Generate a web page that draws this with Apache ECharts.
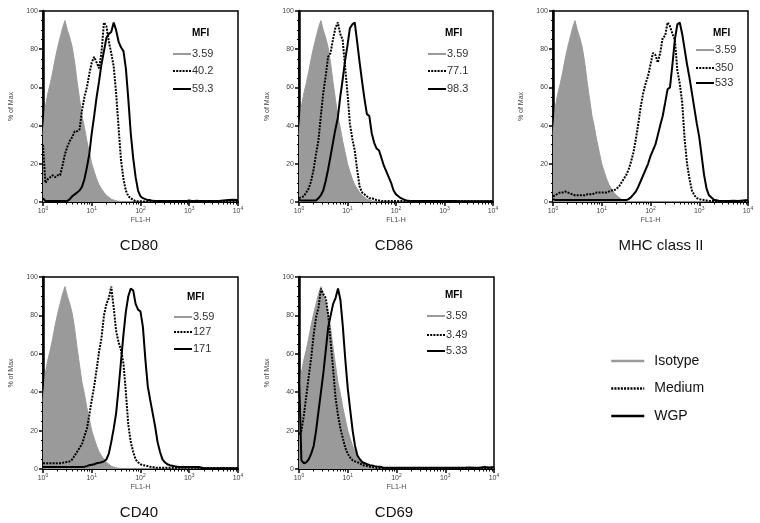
<!DOCTYPE html>
<html>
<head>
<meta charset="utf-8">
<script src="https://cdn.jsdelivr.net/npm/echarts@6/dist/echarts.min.js"></script>
<style>
html,body{margin:0;padding:0;background:#fff;}
#chart{width:760px;height:523px;}
</style>
</head>
<body>
<div id="chart"></div>
<script>
// FL1-H channel values (log-spaced sample points)
const channels = [
  1, 1.12, 1.26, 1.41, 1.58, 1.78, 2.0, 2.24, 2.51, 2.82,
  3.16, 3.55, 3.98, 4.47, 5.01, 5.62, 6.31, 7.08, 7.94, 8.91,
  10, 11.2, 12.6, 14.1, 15.8, 17.8, 20, 22.4, 25.1, 28.2,
  31.6, 35.5, 39.8, 44.7, 50.1, 56.2, 63.1, 70.8, 79.4, 89.1,
  100, 112, 126, 141, 158, 178, 200, 224, 251, 282,
  316, 355, 398, 447, 501, 562, 631, 708, 794, 891,
  1000, 1122, 1259, 1413, 1585,
  1995, 2512, 3162, 3981, 5012, 6310, 7943, 10000
];

// % of Max values
const isotype = [
  35, 50, 57, 62, 68, 75, 81, 86, 91, 95,
  90, 86, 81, 73, 63, 54, 45, 39, 32, 26,
  20, 16, 12, 9, 7, 5, 3.5, 2.5, 1.5, 1,
  0.6, 0.4, 0.3, 0.3, 0.3, 0.3, 0.3, 0.3, 0.3, 0.3,
  0.3, 0.3, 0.3, 0.3, 0.3, 0.3, 0.3, 0.3, 0.3, 0.3,
  0.3, 0.3, 0.3, 0.3, 0.3, 0.3, 0.3, 0.3, 0.3, 0.3,
  0.3, 0.3, 0.3, 0.3, 0.3,
  0.3, 0.3, 0.3, 0.3, 0.3, 0.3, 0.3, 0.3
];
const cd80Medium = [
  30, 10, 12, 13, 14, 13, 14, 14, 19, 25,
  29, 32, 34, 37, 37, 38, 48, 55, 60, 67,
  73, 76, 73, 70, 78, 94, 92, 84, 78, 71,
  57, 39, 22, 12, 6, 3, 2, 1, 0.5, 0.4,
  0.4, 0.3, 0.3, 0.3, 0.3, 0.3, 0.3, 0.3, 0.3, 0.3,
  0.3, 0.3, 0.3, 0.3, 0.3, 0.3, 0.3, 0.3, 0.3, 0.3,
  0.5, 0.3, 0.3, 0.3, 0.5,
  0.3, 0.3, 0.3, 0.3, 0.5, 0.3, 0.5, 0.3
];
const cd80WGP = [
  2, 0.5, 0.5, 0.5, 0.5, 0.5, 0.5, 0.5, 0.5, 0.5,
  0.5, 1.5, 3, 4, 5, 6, 8, 12, 18, 25,
  36, 45, 55, 63, 72, 79, 86, 88, 89, 94,
  90, 84, 81, 79, 70, 54, 36, 23, 13, 6,
  3, 2, 1.5, 1, 1, 0.6, 0.5, 0.5, 0.5, 0.5,
  0.5, 0.5, 0.5, 0.5, 0.5, 0.5, 0.5, 0.5, 0.5, 0.5,
  0.8, 0.5, 0.5, 0.6, 0.5,
  0.5, 0.5, 0.5, 0.5, 0.8, 1, 1.2, 1
];
const cd86Medium = [
  2, 2.5, 3, 5, 7, 11, 17, 25, 32, 45,
  57, 66, 76, 78, 85, 91, 94, 88, 85, 71,
  57, 41, 33, 27, 17, 8, 5, 4, 3, 2,
  2, 1.5, 1, 0.8, 0.5, 0.5, 0.5, 0.5, 0.5, 0.5,
  0.5, 0.5, 0.5, 0.5, 0.5, 0.5, 0.5, 0.5, 0.5, 0.5,
  0.5, 0.5, 0.5, 0.5, 0.5, 0.5, 0.5, 0.5, 0.5, 0.5,
  0.5, 0.5, 0.5, 0.5, 0.5,
  0.4, 0.4, 0.4, 0.4, 0.4, 0.4, 0.4, 0.4
];
const cd86WGP = [
  1, 0.8, 0.8, 0.8, 0.8, 0.8, 0.8, 0.8, 2, 3.5,
  6, 11, 17, 24, 31, 38, 44, 55, 64, 74,
  82, 91, 93, 94, 84, 73, 63, 54, 46, 45,
  36, 31, 28, 27, 23, 19, 16, 13, 10, 6,
  4, 3, 2, 1.5, 1, 0.6, 0.5, 0.5, 0.5, 0.5,
  0.5, 0.5, 0.5, 0.5, 0.5, 0.5, 0.5, 0.5, 0.5, 0.5,
  0.5, 0.5, 0.5, 0.5, 0.5,
  0.4, 0.4, 0.4, 0.4, 0.4, 0.4, 0.4, 0.4
];
const mhcMedium = [
  3, 3.5, 4.5, 5, 5, 5.5, 5, 4.5, 4, 3.5,
  3.5, 3.5, 3.5, 3.5, 4, 4, 4, 4.5, 5, 5,
  5, 5, 5, 5.5, 6, 6, 7, 8, 10, 12,
  14, 17, 21, 26, 33, 41, 50, 57, 62, 66,
  72, 78, 77, 73, 78, 86, 87, 94, 92, 88,
  85, 69, 62, 52, 33, 20, 12, 6, 3.5, 2,
  1.5, 1.2, 1, 0.8, 0.6,
  0.5, 0.5, 0.5, 0.5, 0.5, 0.5, 0.5, 0.5
];
const mhcWGP = [
  1.5, 1, 1, 1, 1, 1, 1, 1, 1, 1,
  1, 1, 1, 1, 1, 1, 1, 1, 1, 1,
  1, 1, 1, 1, 1, 1, 1, 1, 1, 1,
  1, 1.5, 2.5, 4, 5.5, 8, 11, 14, 17, 20,
  24, 27, 30, 35, 40, 45, 52, 59, 60, 72,
  85, 93, 94, 88, 80, 72, 65, 57, 49, 41,
  34, 24, 14, 7, 3.5,
  1.2, 0.7, 0.5, 0.5, 0.6, 0.5, 0.8, 1
];
const cd40Medium = [
  3, 3, 3, 3, 3, 3, 3, 3, 3.2, 3.5,
  3.6, 4, 5, 7, 9, 11, 13, 17, 21, 28,
  36, 43, 52, 61, 68, 80, 86, 89, 95, 84,
  72, 66, 62, 55, 40, 23, 14, 9, 5, 3.5,
  2.5, 2, 1.8, 1.5, 1.2, 1, 0.7, 0.7, 0.7, 0.7,
  0.7, 0.7, 0.7, 0.7, 0.7, 0.7, 0.7, 0.7, 0.7, 0.7,
  0.7, 0.6, 0.6, 0.6, 0.5,
  0.5, 0.5, 0.5, 0.5, 0.5, 0.5, 0.5, 0.5
];
const cd40WGP = [
  1, 1, 1, 1, 1, 1, 1, 1, 1, 1,
  1, 1, 1, 1, 1, 1, 1, 1.2, 1.5, 2,
  2.2, 2.5, 3, 3.2, 3.5, 4, 5, 8, 14, 21,
  29, 42, 56, 70, 82, 90, 94, 93, 86, 83,
  82, 74, 57, 43, 36, 29, 22, 14, 9, 5,
  3.5, 2.5, 2, 1.7, 1.4, 1.2, 1, 1, 1, 1,
  1, 1, 1, 1, 1,
  0.4, 0.4, 0.4, 0.4, 0.4, 0.4, 0.4, 0.4
];
const cd69Medium = [
  18, 20, 28, 38, 48, 58, 70, 79, 84, 94,
  91, 89, 80, 66, 52, 37, 28, 21, 16, 11,
  8, 6, 4.5, 4, 3.5, 3, 2, 1.8, 1.5, 1.2,
  1, 0.8, 0.5, 0.5, 0.5, 0.5, 0.5, 0.5, 0.5, 0.5,
  0.5, 0.5, 0.5, 0.5, 0.5, 0.5, 0.5, 0.5, 0.5, 0.5,
  0.5, 0.5, 0.5, 0.5, 0.5, 0.5, 0.5, 0.5, 0.5, 0.5,
  0.5, 0.5, 0.5, 0.5, 0.5,
  0.5, 0.5, 0.5, 0.5, 0.5, 0.5, 0.5, 0.5
];
const cd69WGP = [
  50, 4.5, 3, 3.5, 5, 8, 12, 20, 30, 40,
  50, 62, 74, 80, 86, 89, 94, 88, 74, 57,
  42, 31, 20, 12, 7, 5, 3.5, 3, 2.5, 2,
  1.8, 1.5, 1.3, 1.2, 1, 0.6, 0.6, 0.6, 0.6, 0.6,
  0.6, 0.6, 0.6, 0.6, 0.6, 0.6, 0.6, 0.6, 0.6, 0.6,
  0.6, 0.6, 0.6, 0.6, 0.6, 0.6, 0.6, 0.6, 0.6, 0.6,
  0.6, 0.6, 0.6, 0.6, 0.6,
  0.6, 0.6, 0.8, 0.6, 0.6, 1, 0.8, 1
];

const panelTitles = ['CD80', 'CD86', 'MHC class II', 'CD40', 'CD69'];
const mediumSets = [cd80Medium, cd86Medium, mhcMedium, cd40Medium, cd69Medium];
const wgpSets = [cd80WGP, cd86WGP, mhcWGP, cd40WGP, cd69WGP];
const mfiIsotype = ['3.59', '3.59', '3.59', '3.59', '3.59'];
const mfiMedium = ['40.2', '77.1', '350', '127', '3.49'];
const mfiWGP = ['59.3', '98.3', '533', '171', '5.33'];
const seriesNames = ['Isotype', 'Medium', 'WGP'];
const yTickValues = [0, 20, 40, 60, 80, 100];

// ---- layout (pixels) ----
const grids = [
  {l: 43, t: 11, w: 195, h: 191},
  {l: 299, t: 11, w: 194, h: 191},
  {l: 553, t: 11, w: 195, h: 191},
  {l: 43, t: 277, w: 195, h: 192},
  {l: 299, t: 277, w: 195, h: 192}
];
const titlePos = [[139, 238], [394, 238], [661, 238], [139, 505], [394, 505]];
const keyPos = [
  {x: 173, mx: 192, my: 33, rows: [54, 71, 89]},
  {x: 428, mx: 445, my: 33, rows: [54, 71, 89]},
  {x: 696, mx: 713, my: 33, rows: [50, 68, 83]},
  {x: 174, mx: 187, my: 297, rows: [317, 332, 349]},
  {x: 427, mx: 445, my: 295, rows: [316, 335, 351]}
];

const FONT = '"Liberation Sans", Arial, sans-serif';
const GRAY = '#9a9a9a';
const DOT = [2, 1.2];

const option = {
  animation: false,
  backgroundColor: '#fff',
  grid: [], xAxis: [], yAxis: [], series: [], title: [], graphic: []
};

grids.forEach((g, i) => {
  option.grid.push({left: g.l, top: g.t, width: g.w, height: g.h,
    show: true, borderColor: '#000', borderWidth: 1.5, backgroundColor: 'transparent'});
  option.xAxis.push({
    type: 'log', logBase: 10, min: 1, max: 10000, gridIndex: i,
    name: 'FL1-H', nameLocation: 'middle', nameGap: 15,
    nameTextStyle: {fontSize: 7, color: '#444', fontFamily: FONT},
    axisLine: {show: true, lineStyle: {color: '#000', width: 2}},
    axisTick: {show: true, inside: false, length: 4, lineStyle: {color: '#000', width: 1.5}},
    minorTick: {show: true, splitNumber: 9, length: 2.5, lineStyle: {color: '#000', width: 1}},
    splitLine: {show: false},
    minorSplitLine: {show: false},
    axisLabel: {
      margin: 4, fontSize: 7, color: '#444', fontFamily: FONT,
      showMinLabel: true, showMaxLabel: true,
      formatter: v => '10{s|' + Math.round(Math.log10(v)) + '}',
      rich: {s: {fontSize: 5, color: '#444', verticalAlign: 'top', padding: [0, 0, 5, 0]}}
    }
  });
  option.yAxis.push({
    type: 'value', min: yTickValues[0], max: yTickValues[yTickValues.length - 1], interval: 20, gridIndex: i,
    name: '% of Max', nameLocation: 'middle', nameGap: 28, nameRotate: 90,
    nameTextStyle: {fontSize: 7, color: '#444', fontFamily: FONT},
    axisLine: {show: true, lineStyle: {color: '#000', width: 2.5}},
    axisTick: {show: true, inside: false, length: 4, lineStyle: {color: '#000', width: 1.5}},
    minorTick: {show: true, splitNumber: 4, length: 2, lineStyle: {color: '#000', width: 1}},
    splitLine: {show: false},
    axisLabel: {margin: 5, fontSize: 7, color: '#444', fontFamily: FONT}
  });
  const sets = [isotype, mediumSets[i], wgpSets[i]];
  sets.forEach((arr, s) => {
    const ser = {
      type: 'line', name: seriesNames[s], xAxisIndex: i, yAxisIndex: i,
      data: channels.map((c, k) => [c, arr[k]]),
      symbol: 'none', showSymbol: false, smooth: false, z: 2 + s,
      lineStyle: s === 0 ? {color: GRAY, width: 1}
        : s === 1 ? {color: '#000', width: 2, type: DOT}
        : {color: '#000', width: 2},
      itemStyle: {color: s === 0 ? GRAY : '#000'}
    };
    if (s === 0) ser.areaStyle = {color: GRAY, opacity: 1, origin: 'start'};
    option.series.push(ser);
  });
  option.title.push({
    text: panelTitles[i], left: titlePos[i][0], top: titlePos[i][1], textAlign: 'center', padding: 0,
    textStyle: {fontSize: 15, fontWeight: 'normal', color: '#111', fontFamily: FONT}
  });
  // MFI key
  const kp = keyPos[i];
  const vals = [mfiIsotype[i], mfiMedium[i], mfiWGP[i]];
  option.graphic.push({
    type: 'text', left: kp.mx, top: kp.my - 5, z: 10,
    style: {text: 'MFI', font: 'bold 10px ' + FONT, fill: '#000'}
  });
  vals.forEach((v, r) => {
    option.graphic.push({
      type: 'line', z: 10,
      shape: {x1: kp.x, y1: kp.rows[r], x2: kp.x + 18, y2: kp.rows[r]},
      style: {stroke: r === 0 ? GRAY : '#000', lineWidth: 2, lineDash: r === 1 ? DOT : null}
    });
    option.graphic.push({
      type: 'text', left: kp.x + 19, top: kp.rows[r] - 6, z: 10,
      style: {text: v, font: '11px ' + FONT, fill: '#333'}
    });
  });
});

option.legend = {
  orient: 'vertical', left: 605, top: 349, itemWidth: 33, itemHeight: 14, itemGap: 13.5,
  data: seriesNames, selectedMode: false,
  itemStyle: {opacity: 0},
  lineStyle: {width: 2.5},
  textStyle: {fontSize: 14, color: '#111', fontFamily: FONT, padding: [0, 0, 0, 5]}
};

const chart = echarts.init(document.getElementById('chart'), null, {renderer: 'canvas'});
chart.setOption(option);
</script>
</body>
</html>
